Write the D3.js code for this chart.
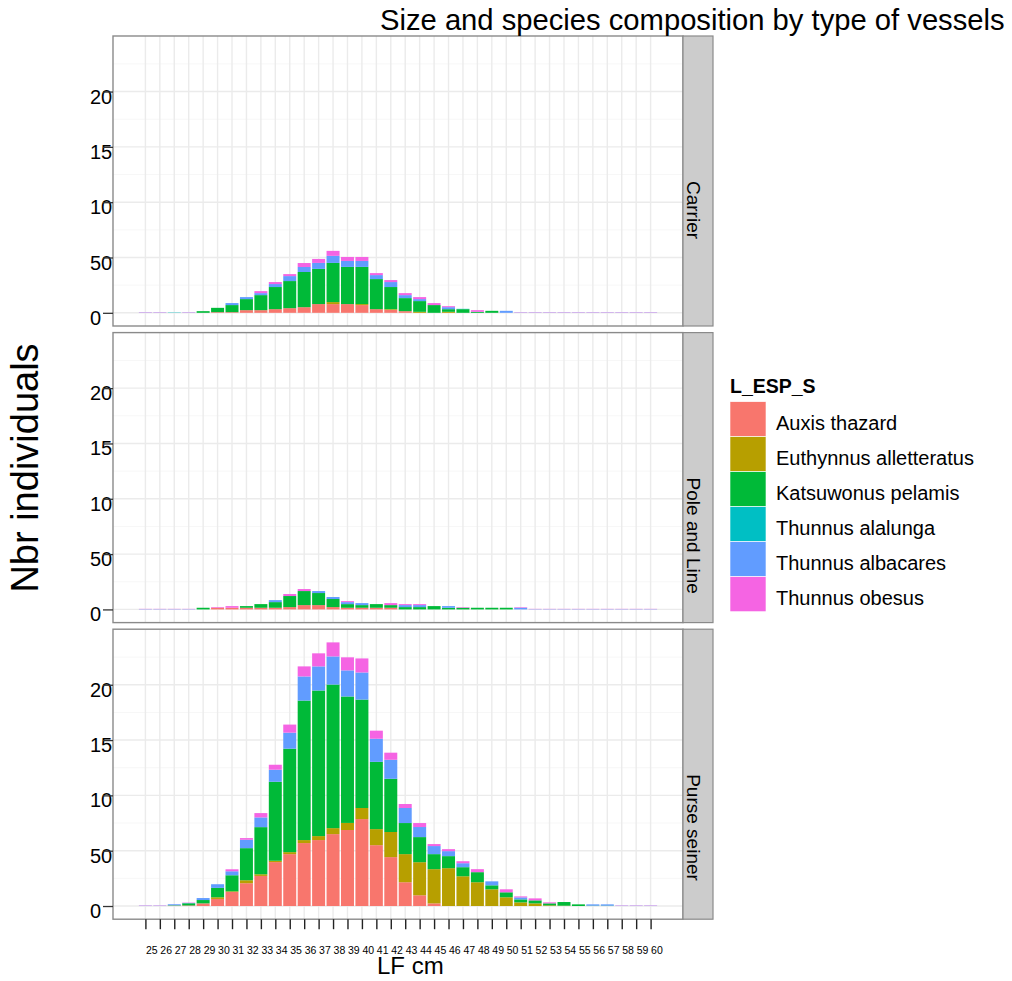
<!DOCTYPE html>
<html>
<head>
<meta charset="utf-8">
<script src="https://cdn.jsdelivr.net/npm/d3@7/dist/d3.min.js"></script>
<style>
body { margin: 0; background: #fff; }
text { font-family: "Liberation Sans", Arial, sans-serif; fill: #000; }
</style>
</head>
<body>
<div id="chart"></div>
<script>
// categories and labels
var lengths = [25, 26, 27, 28, 29, 30, 31, 32, 33, 34, 35, 36, 37, 38, 39, 40, 41, 42,
    43, 44, 45, 46, 47, 48, 49, 50, 51, 52, 53, 54, 55, 56, 57, 58, 59, 60];
var species = ["Auxis thazard", "Euthynnus alletteratus", "Katsuwonus pelamis",
    "Thunnus alalunga", "Thunnus albacares", "Thunnus obesus"];
var colours = ["#F8766D", "#B79F00", "#00BA38", "#00BFC4", "#619CFF", "#F564E3"];
var vessels = ["Carrier", "Pole and Line", "Purse seiner"];
var yTicks = [0, 50, 100, 150, 200];
var yMinor = [25, 75, 125, 175, 225];

// Carrier, one value per length 25..60
var carrierAuxis     = [0,0,0,0,0,0.6,0.6,2.4,2.4,3.3,4.2,5.1,7.9,7.9,7.9,7,3.3,2.7,1.5,0,0,0,0,0,0,0,0,0,0,0,0,0,0,0,0,0];
var carrierEuthynnus = [0,0,0,0,0,0,0,0,0,0,0,0,0,1.8,0,0.9,0,0.6,0,0.9,0,0.9,0,0,0,0,0,0,0,0,0,0,0,0,0,0];
var carrierKatsuwon  = [0,0,0,0,1.5,3.9,6.4,10,13.6,20,24.5,31.8,31.8,35.4,33.6,33.6,27.2,20,11.8,9.7,7,2.4,3.3,0.9,1.8,0,0,0,0,0,0,0,0,0,0,0];
var carrierAlalunga  = [0,0,0.3,0,0,0,0,0,0,0,0,0,0,0,0,0,0,0,0,0,0,0,0.3,0,0,0,0,0,0,0,0,0,0,0,0,0];
var carrierAlbacares = [0.25,0.25,0,0.25,0,0,1.8,1.8,1.8,2.7,4.5,4.5,5.4,6.4,5.4,5.4,3.6,4.5,2.7,1.8,0,1.8,0,0,0,1.8,0.25,0.25,0.25,0.25,0.25,0.25,0.25,0.25,0.25,0.25];
var carrierObesus    = [0.25,0.25,0,0.25,0,0,0,0,1.8,1.8,1.8,3.6,3.6,4.5,3.6,3.6,1.8,1.8,1.8,1.8,1.8,0.9,0,1.5,0,0,0.25,0.25,0.25,0.25,0.25,0.25,0.25,0.25,0.25,0.25];

// Pole and Line
var poleAuxis     = [0,0,0,0,0,1.5,1.5,1.5,1.5,1.5,2.1,3.9,3.9,2.1,1.5,1.5,1.5,1.5,0,0,0,0,0,0,0,0,0,0,0,0,0,0,0,0,0,0];
var poleEuthynnus = [0,0,0,0,0,0,0,0,0,0,0,0,0,0,0,0,0,0,0,0,0,0,0,0,0,0,0,0,0,0,0,0,0,0,0,0];
var poleKatsuwon  = [0,0,0,0,1.5,0,0,1.5,3.3,5.1,10,12.7,10.9,7.3,3.3,2.4,3.3,2.4,2.1,2.1,3,1.5,1.5,1.5,1.5,1.5,0,0,0,0,0,0,0,0,0,0];
var poleAlalunga  = [0,0,0,0,0,0,0,0,0,0,0,0,0,0,0,0,0,0,0,0,0,0,0,0,0,0,0,0,0,0,0,0,0,0,0,0];
var poleAlbacares = [0.25,0.25,0.25,0.25,0,0,0,0,0,1.8,0,0,1.8,1.8,1.8,1.8,0,0,1.8,1.8,0,1.5,0,0,0,0,1.5,0.25,0.25,0.25,0.25,0.25,0.25,0.25,0.25,0.25];
var poleObesus    = [0.25,0.25,0.25,0.25,0,0.6,1.5,0,0,0,1.8,1.8,0,0,0.9,0,0,1.8,0.9,0.9,0,0,0.5,0,0,0,0.5,0.25,0.25,0.25,0.25,0.25,0.25,0.25,0.25,0.25];

// Purse seiner
var purseAuxis     = [0,0,0,0.5,2.4,6.4,12.7,20.6,27.2,39.7,46.9,56.9,59.6,65,68.7,78.6,55,44.2,21.5,9.7,2.4,0,0,0,0,0,0,0,0,0,0,0,0,0,0,0];
var purseEuthynnus = [0,0,0.3,0,0,1.5,0.6,2.7,1.5,1.2,1.8,2.7,3.6,5.4,6.4,10,14.5,22.7,25.4,29.9,30.9,34.2,26.9,21.5,15.1,7.9,3.3,2.4,0.6,0.3,0,0,0,0,0,0];
var purseKatsuwon  = [0,0,0.3,2,3,8.5,14.5,29,42.6,71.4,93.5,126.1,131.6,129.8,114.3,98,60.8,48.1,28.1,22.7,13.6,10.9,8.2,9.1,3.6,4.5,2.7,2.7,1.8,3.3,1.5,0.3,0.3,0,0,0];
var purseAlalunga  = [0,0,0,0,0,0,0,0,0,0,0,0,0,0,0,0,0,0,0,0,0,0,0,0,0,0,0,0,0,0,0,0,0,0,0,0];
var purseAlbacares = [0.25,0.25,1,0.3,1.8,3.3,3.6,7.6,8.8,10.9,14.5,21.8,21.8,25.4,23.6,24.5,20.9,17.2,13.6,9.1,7.3,4.5,3.6,0,3.6,0,1.8,0,0,0,0,1.2,1.2,0.25,0.25,0.25];
var purseObesus    = [0.25,0.25,0,0.3,0,0,1.8,1.5,3.9,4.5,7.3,9.1,11.8,12.7,11.8,12.7,7.3,6.4,3.6,3.6,1.8,1.8,1.8,2.7,0,2.7,0.9,1.8,0.9,0,0,0,0,0.25,0.25,0.25];

var panelSeries = [
    [carrierAuxis, carrierEuthynnus, carrierKatsuwon, carrierAlalunga, carrierAlbacares, carrierObesus],
    [poleAuxis, poleEuthynnus, poleKatsuwon, poleAlalunga, poleAlbacares, poleObesus],
    [purseAuxis, purseEuthynnus, purseKatsuwon, purseAlalunga, purseAlbacares, purseObesus]
];

// layout
var W = 1012, H = 981;
var panelLeft = 113, panelRight = 683, stripW = 30;
var panelTop = 36, panelH = 290, panelGap = 6.6;

var svg = d3.select("#chart").append("svg")
    .attr("width", W)
    .attr("height", H);

// rows for d3.stack
var rows = panelSeries.map(function (series) {
    return lengths.map(function (l, i) {
        var r = {len: l};
        species.forEach(function (s, k) { r[s] = series[k][i]; });
        return r;
    });
});
var stack = d3.stack().keys(species);
var stacked = rows.map(function (r) { return stack(r); });

var yMax = d3.max(rows, function (r) {
    return d3.max(r, function (d) { return d3.sum(species, function (s) { return d[s]; }); });
});

// continuous x with bar width 0.9 and 5% expansion
var xLo = lengths[0] - 0.45, xHi = lengths[lengths.length - 1] + 0.45;
var x = d3.scaleLinear()
    .domain([xLo - 0.05 * (xHi - xLo), xHi + 0.05 * (xHi - xLo)])
    .range([panelLeft, panelRight]);
var y = d3.scaleLinear()
    .domain([-0.05 * yMax, 1.05 * yMax])
    .range([panelH, 0]);
var color = d3.scaleOrdinal().domain(species).range(colours);

var panels = vessels.map(function (v, i) {
    return svg.append("g")
        .attr("transform", "translate(0," + (panelTop + i * (panelH + panelGap)) + ")");
});

// y labels first so the panel background hides their overflow
panels.forEach(function (g) {
    g.append("g")
        .attr("transform", "translate(" + panelLeft + ",0)")
        .call(d3.axisLeft(y).tickValues(yTicks).tickSize(0).tickFormat(d3.format("d")))
        .call(function (a) { a.select(".domain").remove(); })
        .selectAll("text")
        .attr("text-anchor", "start")
        .attr("x", -23)
        .attr("dy", "11.5")
        .style("font-size", "20px")
        .style("font-family", "'Liberation Sans', Arial, sans-serif");
});

panels.forEach(function (g, i) {
    g.append("rect")
        .attr("x", panelLeft).attr("y", 0)
        .attr("width", panelRight - panelLeft).attr("height", panelH)
        .attr("fill", "#fff");

    g.selectAll(".minor").data(yMinor).enter().append("line")
        .attr("x1", panelLeft).attr("x2", panelRight)
        .attr("y1", function (d) { return y(d); })
        .attr("y2", function (d) { return y(d); })
        .attr("stroke", "#f7f7f7").attr("stroke-width", 1);

    g.selectAll(".hmajor").data(yTicks).enter().append("line")
        .attr("x1", panelLeft).attr("x2", panelRight)
        .attr("y1", function (d) { return y(d); })
        .attr("y2", function (d) { return y(d); })
        .attr("stroke", "#ebebeb").attr("stroke-width", 1.4);

    g.selectAll(".vmajor").data(lengths).enter().append("line")
        .attr("x1", function (d) { return x(d); })
        .attr("x2", function (d) { return x(d); })
        .attr("y1", 0).attr("y2", panelH)
        .attr("stroke", "#ebebeb").attr("stroke-width", 1.4);

    // stacked bars
    g.selectAll(".layer").data(stacked[i]).enter().append("g")
        .attr("fill", function (d) { return color(d.key); })
        .selectAll("rect")
        .data(function (d) { return d; })
        .enter().append("rect")
        .attr("x", function (d) { return x(d.data.len - 0.45); })
        .attr("width", x(0.9) - x(0))
        .attr("y", function (d) { return y(d[1]); })
        .attr("height", function (d) { return y(d[0]) - y(d[1]); });

    g.append("rect")
        .attr("x", panelLeft).attr("y", 0)
        .attr("width", panelRight - panelLeft).attr("height", panelH)
        .attr("fill", "none").attr("stroke", "#8a8a8a").attr("stroke-width", 1.4);

    // strip on the right
    g.append("rect")
        .attr("x", panelRight).attr("y", 0)
        .attr("width", stripW).attr("height", panelH)
        .attr("fill", "#cccccc").attr("stroke", "#8a8a8a").attr("stroke-width", 1.2);
    g.append("text")
        .attr("transform", "translate(" + (panelRight + 4) + "," + (panelH / 2) + ") rotate(90)")
        .style("font-size", "19px")
        .text(vessels[i]);

    // y ticks
    g.append("g")
        .attr("transform", "translate(" + panelLeft + ",0)")
        .call(d3.axisLeft(y).tickValues(yTicks).tickSize(10).tickFormat(""))
        .call(function (a) {
            a.select(".domain").remove();
            a.selectAll("line").attr("stroke", "#333").attr("stroke-width", 1.3);
        });
});

// x axis under the last panel
var bottom = panelTop + 2 * (panelH + panelGap) + panelH;
svg.append("g")
    .attr("transform", "translate(0," + bottom + ")")
    .call(d3.axisBottom(x).tickValues(lengths).tickSize(10).tickFormat(d3.format("d")))
    .call(function (a) {
        a.select(".domain").remove();
        a.selectAll("line").attr("stroke", "#222").attr("stroke-width", 1.4);
        a.selectAll("text")
            .attr("text-anchor", "start")
            .attr("y", 35).attr("dy", 0)
            .style("font-size", "10.5px")
            .style("font-family", "'Liberation Sans', Arial, sans-serif");
    });

svg.append("text")
    .attr("x", 377).attr("y", 974)
    .style("font-size", "24px")
    .text("LF cm");

svg.append("text")
    .attr("transform", "translate(38,468) rotate(-90)")
    .attr("text-anchor", "middle")
    .style("font-size", "38px")
    .text("Nbr individuals");

svg.append("text")
    .attr("x", 380).attr("y", 30)
    .style("font-size", "29.2px")
    .text("Size and species composition by type of vessels");

// legend
var legend = svg.append("g").attr("transform", "translate(730,401.7)");
legend.append("text")
    .attr("x", 0).attr("y", -9)
    .style("font-size", "19.5px").style("font-weight", "bold")
    .text("L_ESP_S");
var keys = legend.selectAll(".key").data(species).enter().append("g")
    .attr("transform", function (d, i) { return "translate(0," + i * 35 + ")"; });
keys.append("rect")
    .attr("width", 36).attr("height", 35)
    .attr("fill", function (d) { return color(d); })
    .attr("stroke", "#fff").attr("stroke-width", 0.6);
keys.append("text")
    .attr("x", 46).attr("y", 28)
    .style("font-size", "20px")
    .text(function (d) { return d; });
</script>
</body>
</html>
